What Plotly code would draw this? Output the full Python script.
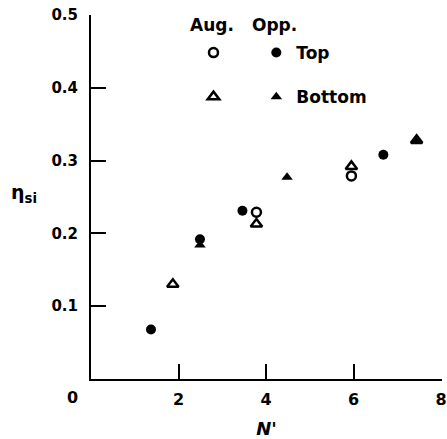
import plotly.graph_objects as go

# Data
aug_top_x = [3.78, 5.95]
aug_top_y = [0.229, 0.279]
aug_bot_x = [1.87, 3.78, 5.95, 7.44]
aug_bot_y = [0.130, 0.213, 0.292, 0.328]
opp_top_x = [1.37, 2.49, 3.46, 6.68]
opp_top_y = [0.068, 0.192, 0.231, 0.308]
opp_bot_x = [2.49, 4.48, 7.44]
opp_bot_y = [0.184, 0.277, 0.326]

x_ticks = [2, 4, 6, 8]
y_ticks = [0.1, 0.2, 0.3, 0.4, 0.5]
y_ticktext = ["0.1", "0.2", "0.3", "0.4", "0.5"]

FONT = "DejaVu Sans"
BLACK = "black"

fig = go.Figure()

fig.add_trace(go.Scatter(x=aug_top_x, y=aug_top_y, mode="markers", name=" ",
                         legend="legend", legendgroup="a1",
                         marker=dict(symbol="circle-open", size=9, color=BLACK,
                                     line=dict(width=2.5, color=BLACK))))
fig.add_trace(go.Scatter(x=aug_bot_x, y=aug_bot_y, mode="markers", name=" ",
                         legend="legend", legendgroup="a2",
                         marker=dict(symbol="triangle-up-open", size=10, color=BLACK,
                                     line=dict(width=2.5, color=BLACK))))
fig.add_trace(go.Scatter(x=opp_top_x, y=opp_top_y, mode="markers", name="Top",
                         legend="legend2", legendgroup="b1",
                         marker=dict(symbol="circle", size=10, color=BLACK)))
fig.add_trace(go.Scatter(x=opp_bot_x, y=opp_bot_y, mode="markers", name="Bottom",
                         legend="legend2", legendgroup="b2",
                         marker=dict(symbol="triangle-up", size=10, color=BLACK)))

legend_common = dict(
    orientation="v", traceorder="grouped", tracegroupgap=19,
    bgcolor="rgba(0,0,0,0)", borderwidth=0,
    font=dict(family=FONT, size=17, color=BLACK, weight="bold"),
    xanchor="left", yanchor="top", y=0.945,
)

fig.update_layout(
    width=447, height=439,
    margin=dict(l=91, r=0, t=15, b=60),
    plot_bgcolor="white", paper_bgcolor="white",
    showlegend=True,
    legend=dict(x=0.292, **legend_common),
    legend2=dict(x=0.471, **legend_common),
    xaxis=dict(
        range=[0, 8.02], tickvals=x_ticks, ticks="inside", ticklen=15, tickwidth=2,
        tickcolor=BLACK, showline=True, linecolor=BLACK, linewidth=2,
        showgrid=False, zeroline=False, ticklabelstandoff=5,
        ticklabeloverflow="allow",
        tickfont=dict(family=FONT, size=16, color=BLACK, weight="bold"),
        title=dict(text="<i>N'</i>", standoff=14,
                   font=dict(family=FONT, size=18, color=BLACK, weight="bold")),
    ),
    yaxis=dict(
        range=[0, 0.5], tickvals=y_ticks, ticktext=y_ticktext, ticks="inside",
        ticklen=15, tickwidth=2, tickcolor=BLACK, showline=True, linecolor=BLACK,
        linewidth=2, showgrid=False, zeroline=False, ticklabelstandoff=8,
        tickfont=dict(family=FONT, size=15, color=BLACK, weight="bold"),
    ),
    annotations=[
        dict(text="Aug.", xref="paper", yref="paper", x=0.345, y=0.9725,
             xanchor="center", yanchor="middle", showarrow=False,
             font=dict(family=FONT, size=17, color=BLACK, weight="bold")),
        dict(text="Opp.", xref="paper", yref="paper", x=0.522, y=0.9725,
             xanchor="center", yanchor="middle", showarrow=False,
             font=dict(family=FONT, size=17, color=BLACK, weight="bold")),
        dict(text="η<sub>si</sub>", xref="paper", yref="paper", x=-0.19, y=0.51,
             xanchor="center", yanchor="middle", showarrow=False,
             font=dict(family=FONT, size=19, color=BLACK, weight="bold")),
        dict(text="0", xref="paper", yref="paper", x=-0.053, y=-0.052,
             xanchor="center", yanchor="middle", showarrow=False,
             font=dict(family=FONT, size=16, color=BLACK, weight="bold")),
    ],
)

fig.write_html("out.html")
